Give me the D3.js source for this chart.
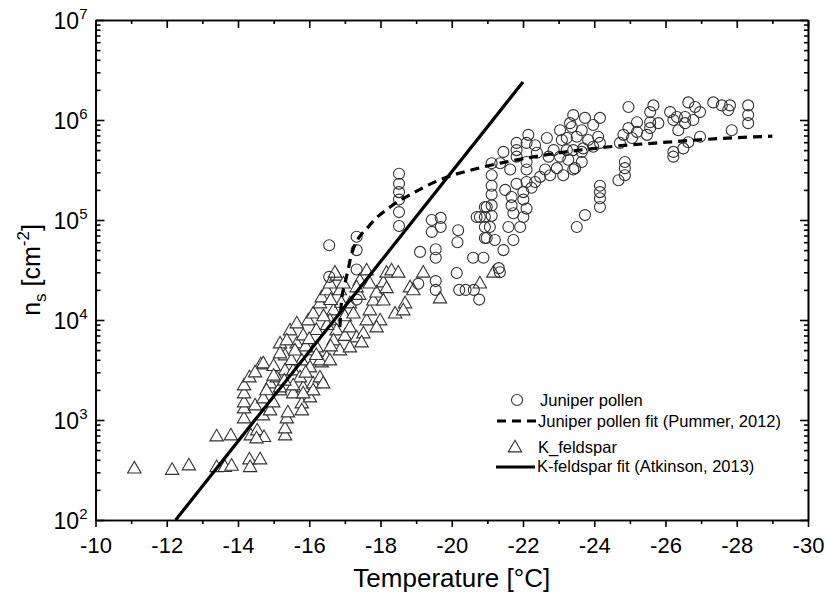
<!DOCTYPE html>
<html>
<head>
<meta charset="utf-8">
<script src="https://cdn.jsdelivr.net/npm/d3@7"></script>
<style>
  body { margin: 0; background: #fff; }
  svg { font-family: "Liberation Sans", Arial, sans-serif; }
</style>
</head>
<body>
<div id="chart"></div>
<script>
// Juniper pollen measurements: [temperature °C, n_s cm^-2]
var juniper = [
  [-16.56, 5.6e4], [-16.56, 2.7e4], [-17.33, 6.8e4], [-17.33, 5.0e4], [-17.33, 3.2e4], [-17.33, 1.6e4],
  [-18.52, 2.9e5], [-18.52, 2.3e5], [-18.52, 1.9e5], [-18.52, 1.6e5], [-18.52, 1.2e5], [-18.52, 8.7e4],
  [-19.11, 4.8e4], [-19.06, 2.3e4], [-19.44, 1.0e5], [-19.69, 1.05e5], [-19.44, 7.6e4], [-19.69, 8.5e4],
  [-20.18, 7.9e4], [-20.16, 6.0e4], [-19.55, 5.1e4], [-19.55, 4.2e4], [-20.14, 2.95e4], [-19.55, 2.45e4],
  [-19.55, 2.0e4], [-20.21, 2.0e4], [-20.39, 2.0e4], [-20.62, 2.0e4], [-20.77, 1.6e4], [-20.60, 4.2e4],
  [-20.89, 4.2e4], [-20.79, 1.07e5], [-20.93, 6.6e4], [-21.21, 6.3e4], [-21.45, 5.0e4], [-21.35, 3.0e4],
  [-21.32, 3.3e4], [-21.73, 6.3e4], [-21.92, 8.5e4],
  [-21.12, 3.7e5], [-21.12, 2.8e5], [-21.12, 2.2e5], [-21.12, 1.8e5], [-21.12, 1.4e5], [-21.12, 1.1e5],
  [-20.93, 1.35e5], [-20.93, 1.07e5], [-20.93, 8.5e4],
  [-20.70, 1.07e5], [-20.98, 1.35e5], [-21.07, 8.5e4], [-20.98, 6.6e4], [-21.50, 2.0e5], [-21.68, 1.7e5],
  [-21.68, 1.4e5], [-21.73, 1.17e5], [-21.59, 8.5e4], [-21.82, 2.3e5], [-21.82, 5.9e5], [-21.82, 5.0e5],
  [-21.82, 4.3e5], [-21.36, 3.7e5], [-21.45, 4.8e5], [-21.64, 3.2e5],
  [-22.15, 7.1e5], [-22.10, 5.9e5], [-22.34, 5.6e5], [-22.39, 4.7e5], [-22.10, 3.8e5], [-22.10, 3.2e5],
  [-22.10, 2.4e5], [-22.01, 1.9e5], [-22.01, 1.6e5], [-22.10, 1.3e5], [-22.01, 1.07e5], [-22.24, 2.1e5],
  [-22.34, 2.4e5], [-22.48, 2.7e5], [-22.62, 3.2e5], [-22.72, 4.3e5], [-22.67, 6.6e5], [-23.04, 7.9e5],
  [-23.09, 6.3e5], [-22.86, 5.0e5], [-23.04, 4.3e5], [-23.23, 5.0e5], [-23.37, 8.5e5], [-23.27, 4.0e5],
  [-23.41, 3.2e5], [-22.76, 2.8e5], [-22.95, 3.3e5], [-23.51, 8.5e4],
  [-23.41, 1.12e6], [-23.74, 1.05e6], [-24.16, 1.05e6], [-23.97, 8.9e5], [-23.65, 7.9e5], [-23.32, 9.3e5],
  [-23.23, 6.6e5], [-23.51, 6.8e5], [-23.83, 6.3e5], [-24.11, 6.8e5], [-24.16, 5.9e5], [-23.97, 5.4e5],
  [-23.69, 5.2e5], [-23.65, 4.8e5], [-23.41, 5.0e5], [-23.46, 3.3e5], [-23.65, 3.8e5], [-23.13, 2.8e5],
  [-24.16, 2.2e5], [-24.16, 1.9e5], [-24.16, 1.65e5], [-24.16, 1.35e5], [-23.74, 1.12e5],
  [-24.68, 2.5e5], [-24.86, 3.8e5], [-24.86, 3.3e5], [-24.86, 2.8e5], [-24.72, 5.9e5], [-24.96, 1.35e6],
  [-24.82, 7.1e5], [-24.96, 8.3e5], [-25.06, 6.6e5], [-25.20, 9.5e5], [-25.20, 7.6e5], [-25.48, 7.1e5],
  [-25.57, 8.3e5], [-25.57, 9.5e5], [-25.80, 9.3e5], [-25.66, 1.4e6], [-25.57, 1.2e6],
  [-26.13, 1.2e6], [-26.22, 1.0e6], [-26.32, 1.07e6], [-26.36, 7.9e5], [-26.55, 1.07e6], [-26.55, 9.3e5],
  [-26.64, 1.5e6], [-26.78, 1.0e6], [-26.83, 1.35e6], [-26.97, 1.2e6], [-26.22, 4.8e5], [-26.22, 4.3e5],
  [-26.50, 5.2e5], [-26.64, 6.0e5], [-26.97, 6.8e5],
  [-27.34, 1.5e6], [-27.58, 1.4e6], [-27.76, 1.26e6], [-27.81, 1.4e6], [-27.86, 7.9e5],
  [-28.32, 1.4e6], [-28.32, 1.12e6], [-28.32, 9.3e5]
];

// K-feldspar measurements: [temperature °C, n_s cm^-2]
var feldspar = [
  [-11.09, 330], [-12.15, 320], [-12.62, 355], [-13.40, 341], [-13.63, 342], [-13.82, 352],
  [-14.32, 407], [-14.34, 341], [-14.62, 407], [-13.40, 692], [-13.80, 708], [-14.36, 708],
  [-14.54, 794], [-14.73, 681], [-14.52, 660], [-15.32, 708], [-15.32, 832],
  [-14.17, 1047], [-14.17, 1318], [-14.17, 1514], [-14.17, 1862], [-14.17, 2239], [-14.32, 2692],
  [-14.64, 3631], [-14.48, 1413], [-14.71, 1660], [-14.70, 1122], [-14.90, 1259], [-14.99, 1514],
  [-15.18, 1995], [-15.37, 1047], [-15.40, 1202], [-14.90, 2344], [-15.32, 3162], [-15.09, 2692],
  [-15.55, 1862], [-15.79, 1479], [-15.79, 1259], [-16.02, 1698], [-15.83, 2138], [-16.11, 2344],
  [-16.30, 2692], [-16.35, 3802], [-16.11, 5012], [-15.79, 3981], [-15.55, 3162], [-15.32, 4467],
  [-15.18, 5888], [-15.65, 5888], [-16.49, 4266],
  [-14.48, 3020], [-14.71, 3715], [-15.18, 4677], [-15.46, 7943], [-15.37, 6310], [-15.65, 9333],
  [-15.83, 7079], [-15.97, 1.0e4], [-16.11, 1.17e4], [-16.21, 5370], [-16.30, 3981], [-16.02, 3388],
  [-15.74, 2692], [-16.30, 1.48e4], [-16.35, 1.7e4], [-16.49, 2.0e4], [-16.58, 2.34e4], [-16.77, 2.8e4],
  [-16.68, 1.26e4], [-16.58, 1.0e4], [-16.77, 7943], [-16.68, 6310], [-16.86, 5012], [-16.58, 3981],
  [-16.39, 2344], [-16.11, 1995], [-15.83, 1862], [-15.55, 2239], [-15.18, 2138],
  [-15.0, 3500], [-15.5, 4000], [-15.9, 5500], [-16.2, 8000], [-16.5, 9000], [-16.0, 6500],
  [-15.6, 5000], [-16.4, 1.1e4], [-16.9, 1.5e4], [-17.0, 1.1e4], [-16.6, 1.6e4], [-17.4, 1.8e4],
  [-15.0, 2800], [-15.3, 2500], [-14.8, 2000], [-15.9, 3000], [-16.2, 4500], [-16.6, 5500], [-17.0, 7000],
  [-17.14, 1.48e4], [-17.24, 1.17e4], [-17.14, 8511], [-17.33, 6761], [-17.52, 7413], [-17.47, 6026],
  [-17.14, 5370], [-17.61, 1.0e4], [-17.70, 1.26e4], [-17.80, 1.58e4], [-17.89, 1.9e4], [-17.99, 1.0e4],
  [-17.89, 8511], [-18.08, 1.58e4], [-18.08, 2.4e4], [-17.42, 2.5e4], [-17.61, 3.16e4], [-17.70, 2.34e4],
  [-17.33, 2.14e4], [-18.17, 3.0e4], [-18.31, 3.16e4], [-18.50, 3.0e4], [-18.17, 2.1e4], [-18.41, 1.17e4],
  [-18.69, 1.48e4], [-18.64, 1.26e4], [-18.83, 2.14e4], [-19.20, 3.0e4], [-19.67, 1.66e4],
  [-16.86, 2.0e4], [-16.96, 2.34e4], [-16.72, 3.0e4],
  [-21.17, 3.0e4], [-20.79, 2.34e4], [-18.92, 2.0e4]
];

// fit curves
var juniperFit = [
  [-16.86, 8.5e3], [-16.91, 1.6e4], [-17.0, 2.3e4], [-17.1, 3.3e4], [-17.19, 4.6e4], [-17.7, 8.9e4],
  [-18.27, 1.35e5], [-18.9, 1.85e5], [-19.76, 2.6e5], [-20.6, 3.2e5], [-21.36, 3.7e5], [-22.5, 4.4e5],
  [-24.44, 5.4e5], [-26.04, 6.0e5], [-27.44, 6.5e5], [-29.0, 6.9e5]
];
var feldsparFit = [[-12.25, 100], [-22.0, 2.4e6]];

// axis ticks
var xMajorTicks = [-10, -12, -14, -16, -18, -20, -22, -24, -26, -28, -30];
var xMinorTicks = [-11, -13, -15, -17, -19, -21, -23, -25, -27, -29];
var yExponents = [2, 3, 4, 5, 6, 7];

var legendLabels = ["Juniper pollen", "Juniper pollen fit (Pummer, 2012)", "K_feldspar", "K-feldspar fit (Atkinson, 2013)"];

var width = 825, height = 603;
var plotLeft = 95.5, plotRight = 808, plotTop = 20, plotBottom = 520;
var fontFam = "Liberation Sans, Arial, sans-serif";

var svg = d3.select("#chart").append("svg")
    .attr("width", width)
    .attr("height", height);

var x = d3.scaleLinear().domain([-10, -30]).range([plotLeft, plotRight]);
var y = d3.scaleLog().domain([1e2, 1e7]).range([plotBottom, plotTop]);

var yMajor = yExponents.map(function(e) { return Math.pow(10, e); });
var yMinor = [];
yExponents.slice(0, -1).forEach(function(e) {
    for (var m = 2; m < 10; m++) yMinor.push(m * Math.pow(10, e));
});

// markers
var tri = d3.symbol().type(d3.symbolTriangle).size(78);

svg.append("g").selectAll("path")
    .data(feldspar)
    .enter()
    .append("path")
    .attr("d", tri)
    .attr("transform", function(d) { return "translate(" + x(d[0]) + "," + (y(d[1]) + 1) + ")"; })
    .attr("fill", "white")
    .attr("stroke", "#333")
    .attr("stroke-width", 1.1);

svg.append("g").selectAll("circle")
    .data(juniper)
    .enter()
    .append("circle")
    .attr("cx", function(d) { return x(d[0]); })
    .attr("cy", function(d) { return y(d[1]); })
    .attr("r", 5.5)
    .attr("fill", "none")
    .attr("stroke", "#333")
    .attr("stroke-width", 1.1);

// fit lines
var line = d3.line()
    .x(function(d) { return x(d[0]); })
    .y(function(d) { return y(d[1]); });

svg.append("path")
    .datum(feldsparFit)
    .attr("d", line)
    .attr("fill", "none")
    .attr("stroke", "black")
    .attr("stroke-width", 3.2);

svg.append("path")
    .datum(juniperFit)
    .attr("d", line.curve(d3.curveMonotoneX))
    .attr("fill", "none")
    .attr("stroke", "black")
    .attr("stroke-width", 3.2)
    .attr("stroke-dasharray", "9,6");

// axes
function drawAxis(axis, tx, ty) {
    var g = svg.append("g")
        .attr("transform", "translate(" + tx + "," + ty + ")")
        .call(axis);
    g.selectAll("path, line").attr("stroke", "black").attr("stroke-width", 1.6);
    return g;
}

var xb = drawAxis(d3.axisBottom(x).tickValues(xMajorTicks).tickSize(7).tickSizeOuter(0).tickPadding(10)
    .tickFormat(function(d) { return d; }), 0, plotBottom);
xb.selectAll("text").attr("font-size", 22).attr("fill", "black").attr("font-family", fontFam);
drawAxis(d3.axisBottom(x).tickValues(xMinorTicks).tickSize(4).tickSizeOuter(0).tickFormat(""), 0, plotBottom);

drawAxis(d3.axisTop(x).tickValues(xMajorTicks).tickSize(-8).tickSizeOuter(0).tickFormat(""), 0, plotTop);
drawAxis(d3.axisTop(x).tickValues(xMinorTicks).tickSize(-4).tickSizeOuter(0).tickFormat(""), 0, plotTop);

var yl = drawAxis(d3.axisLeft(y).tickValues(yMajor).tickSize(-9).tickSizeOuter(0).tickFormat(""), plotLeft, 0);
drawAxis(d3.axisLeft(y).tickValues(yMinor).tickSize(-5).tickSizeOuter(0).tickFormat(""), plotLeft, 0);
drawAxis(d3.axisRight(y).tickValues(yMajor).tickSize(-8).tickSizeOuter(0).tickFormat(""), plotRight, 0);
drawAxis(d3.axisRight(y).tickValues(yMinor).tickSize(-4).tickSizeOuter(0).tickFormat(""), plotRight, 0);

// y labels as 10^n
yl.selectAll(".tick").each(function(d) {
    var t = d3.select(this).append("text")
        .attr("x", -8)
        .attr("y", 8)
        .attr("text-anchor", "end")
        .attr("fill", "black")
        .attr("font-size", 23)
        .attr("font-family", fontFam);
    t.append("tspan").text("10");
    t.append("tspan").attr("dy", -10).attr("font-size", 15).text(Math.round(Math.log10(d)));
});

// axis titles
svg.append("text")
    .attr("x", (plotLeft + plotRight) / 2)
    .attr("y", 587)
    .attr("text-anchor", "middle")
    .attr("font-size", 26)
    .attr("fill", "black")
    .text("Temperature [°C]");

var yt = svg.append("text")
    .attr("transform", "translate(40,270) rotate(-90)")
    .attr("text-anchor", "middle")
    .attr("font-size", 25)
    .attr("fill", "black");
yt.append("tspan").text("n");
yt.append("tspan").attr("font-size", 17).attr("dy", 6).text("s");
yt.append("tspan").attr("dy", -6).text(" [cm");
yt.append("tspan").attr("font-size", 17).attr("dy", -11).text("-2");
yt.append("tspan").attr("dy", 11).text("]");

// legend
var lg = svg.append("g").attr("font-size", 16.5).attr("fill", "black");
lg.append("circle").attr("cx", 517).attr("cy", 400).attr("r", 5.5)
    .attr("fill", "none").attr("stroke", "#333").attr("stroke-width", 1.1);
lg.append("text").attr("x", 540).attr("y", 406).text(legendLabels[0]);
lg.append("line").attr("x1", 497).attr("x2", 537).attr("y1", 421).attr("y2", 421)
    .attr("stroke", "black").attr("stroke-width", 3.2).attr("stroke-dasharray", "9,6");
lg.append("text").attr("x", 538).attr("y", 427).text(legendLabels[1]);
lg.append("path").attr("d", tri).attr("transform", "translate(515,448)")
    .attr("fill", "white").attr("stroke", "#333").attr("stroke-width", 1.1);
lg.append("text").attr("x", 538).attr("y", 453).text(legendLabels[2]);
lg.append("line").attr("x1", 496).attr("x2", 535).attr("y1", 467).attr("y2", 467)
    .attr("stroke", "black").attr("stroke-width", 3.2);
lg.append("text").attr("x", 537).attr("y", 472).text(legendLabels[3]);
</script>
</body>
</html>
